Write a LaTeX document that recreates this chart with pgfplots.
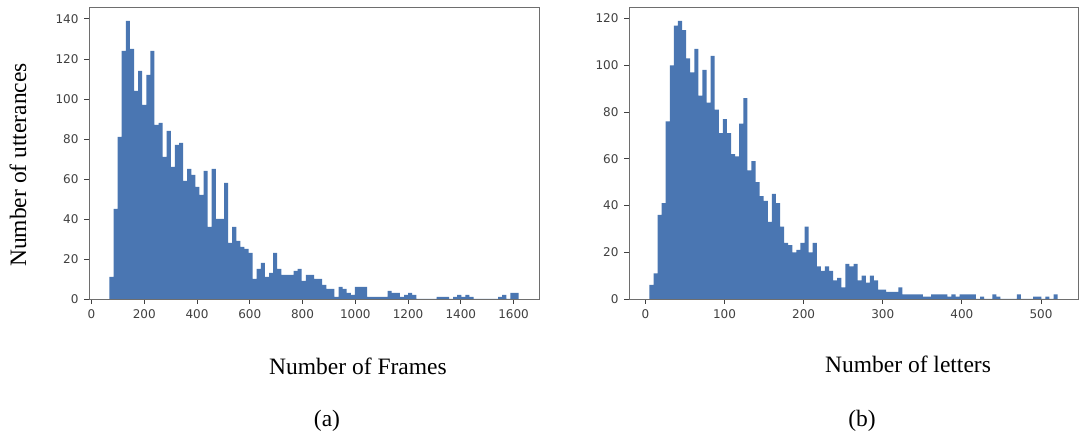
\documentclass[border=0pt]{standalone}
\usepackage{fontspec}
\setmainfont{Liberation Serif}
\newfontfamily\tickfont{DejaVu Sans}
\usepackage{pgfplots}
\usepackage{pgfplotstable}
\pgfplotsset{compat=1.18}
\definecolor{barblue}{RGB}{74,118,178}
\definecolor{spine}{RGB}{110,110,110}

% Histogram of utterance lengths in frames (100 bins, left bin edge, count)
\pgfplotstableread{
edge count
68.00 11
83.51 45
99.02 81
114.53 124
130.04 139
145.55 125
161.06 104
176.57 114
192.08 97
207.59 112
223.10 124
238.61 87
254.12 88
269.63 71
285.14 84
300.65 66
316.16 77
331.67 78
347.18 59
362.69 65
378.20 62
393.71 56
409.22 52
424.73 64
440.24 36
455.75 65
471.26 40
486.77 40
502.28 58
517.79 28
533.30 36
548.81 29
564.32 26
579.83 25
595.34 23
610.85 10
626.36 15
641.87 18
657.38 11
672.89 13
688.40 23
703.91 15
719.42 12
734.93 12
750.44 12
765.95 14
781.46 15
796.97 9
812.48 12
827.99 12
843.50 10
859.01 10
874.52 7
890.03 5
905.54 5
921.05 1
936.56 6
952.07 5
967.58 3
983.09 2
998.60 6
1014.11 6
1029.62 6
1045.13 1
1060.64 1
1076.15 1
1091.66 1
1107.17 1
1122.68 4
1138.19 3
1153.70 3
1169.21 1
1184.72 2
1200.23 3
1215.74 2
1231.25 0
1246.76 0
1262.27 0
1277.78 0
1293.29 0
1308.80 1
1324.31 1
1339.82 1
1355.33 0
1370.84 1
1386.35 2
1401.86 1
1417.37 2
1432.88 1
1448.39 0
1463.90 0
1479.41 0
1494.92 0
1510.43 0
1525.94 0
1541.45 1
1556.96 2
1572.47 0
1587.98 3
1603.49 3
1619.00 3
}\frames

% Histogram of utterance lengths in letters (100 bins, left bin edge, count)
\pgfplotstableread{
edge count
5.00 6
10.16 11
15.32 36
20.48 41
25.64 76
30.80 100
35.96 117
41.12 119
46.28 115
51.44 103
56.60 97
61.76 107
66.92 87
72.08 98
77.24 84
82.40 104
87.56 81
92.72 71
97.88 77
103.04 71
108.20 62
113.36 61
118.52 75
123.68 86
128.84 55
134.00 59
139.16 50
144.32 44
149.48 42
154.64 33
159.80 45
164.96 41
170.12 31
175.28 24
180.44 23
185.60 20
190.76 21
195.92 24
201.08 31
206.24 20
211.40 24
216.56 14
221.72 12
226.88 14
232.04 12
237.20 8
242.36 9
247.52 5
252.68 15
257.84 14
263.00 15
268.16 8
273.32 10
278.48 7
283.64 10
288.80 8
293.96 4
299.12 4
304.28 3
309.44 3
314.60 3
319.76 5
324.92 2
330.08 2
335.24 2
340.40 2
345.56 2
350.72 1
355.88 1
361.04 2
366.20 2
371.36 2
376.52 2
381.68 1
386.84 2
392.00 1
397.16 2
402.32 2
407.48 2
412.64 2
417.80 0
422.96 1
428.12 0
433.28 0
438.44 2
443.60 1
448.76 0
453.92 0
459.08 0
464.24 0
469.40 2
474.56 0
479.72 0
484.88 0
490.04 1
495.20 1
500.36 0
505.52 1
510.68 0
515.84 2
521.00 2
}\letters

\pgfplotsset{
  histo/.style={
    scale only axis,
    anchor=south west,
    height=292pt,
    ymin=0,
    axis line style={spine, line width=0.8pt},
    tick align=outside,
    xtick pos=bottom,
    ytick pos=left,
    major tick length=5pt,
    every tick/.style={black!75, line width=0.8pt},
    tick label style={font=\tickfont\fontsize{12}{12}\selectfont, text=black!75},
    /pgf/number format/assume math mode=true,
    /pgf/number format/1000 sep={},
    scaled ticks=false,
    xticklabel style={yshift=-2pt},
    yticklabel style={xshift=-2pt},
  },
}

\begin{document}
\begin{tikzpicture}[x=1pt,y=1pt]
\useasboundingbox (0pt,0pt) rectangle (1083pt,438pt);

\begin{axis}[histo,
  at={(89pt,139pt)}, width=450pt,
  xmin=-9.55, xmax=1696.55, ymax=145.95,
  xtick={0,200,...,1600},
  ytick={0,20,...,140},
]
\addplot[const plot, fill=barblue, draw=none] table[x=edge, y=count] {\frames} \closedcycle;
\end{axis}

\begin{axis}[histo,
  at={(629pt,139pt)}, width=449pt,
  xmin=-20.8, xmax=546.8, ymax=124.95,
  xtick={0,100,...,500},
  ytick={0,20,...,120},
]
\addplot[const plot, fill=barblue, draw=none] table[x=edge, y=count] {\letters} \closedcycle;
\end{axis}

\begin{scope}[font=\fontsize{23.5}{28}\selectfont]
\node[rotate=90] at (18pt,273pt) {Number of utterances};
\node at (358pt,72pt) {Number of Frames};
\node at (908pt,74pt) {Number of letters};
\node at (327pt,17pt) {(a)};
\node at (862pt,17pt) {(b)};
\end{scope}
\end{tikzpicture}
\end{document}
